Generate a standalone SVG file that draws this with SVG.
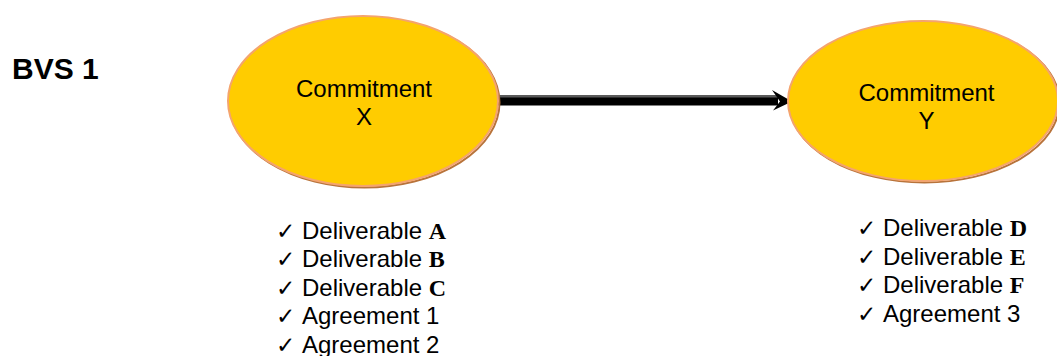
<svg xmlns="http://www.w3.org/2000/svg" width="1057" height="356" viewBox="0 0 1057 356">
  <style>
    .node-fill { fill: #FFCC00; stroke: #F4A46E; stroke-width: 2; }
    .node-shadow { fill: none; stroke: #B8733A; stroke-width: 2; }
    .node-label { font-family: "Liberation Sans", Arial, sans-serif; font-size: 24px; fill: #000; text-anchor: middle; }
    .title { font-family: "Liberation Sans", Arial, sans-serif; font-size: 30px; font-weight: bold; fill: #000; }
    .item { font-family: "Liberation Sans", Arial, sans-serif; font-size: 24px; fill: #000; }
    .tick { font-family: "DejaVu Sans", sans-serif; font-size: 23px; fill: #000; }
    .key { font-family: "Liberation Serif", "Times New Roman", serif; font-weight: bold; }
  </style>

  <rect width="1057" height="356" fill="#FFFFFF"/>

  <text class="title" x="12" y="79">BVS 1</text>

  <!-- connectors -->
  <g id="connectors">
    <rect x="495" y="95" width="285" height="3" fill="#5A5A5A"/>
    <rect x="495" y="97.5" width="283" height="8" fill="#000000"/>
    <polygon points="792,101.5 772,90 780,101.5 773,110.5" fill="#000000"/>
  </g>

  <g id="node-x">
    <ellipse class="node-shadow" cx="364.5" cy="102.5" rx="135" ry="85"/>
    <ellipse class="node-fill" cx="363" cy="101" rx="135" ry="85"/>
    <text class="node-label" x="364" y="97">Commitment</text>
    <text class="node-label" x="364" y="125">X</text>
  </g>

  <g id="node-y">
    <ellipse class="node-shadow" cx="924.5" cy="102.5" rx="135" ry="80"/>
    <ellipse class="node-fill" cx="923" cy="101" rx="135" ry="80"/>
    <text class="node-label" x="926.5" y="101">Commitment</text>
    <text class="node-label" x="926.5" y="129">Y</text>
  </g>

  <g id="list-x">
    <text class="tick" x="276" y="238.5">✓</text>
    <text class="item" x="302" y="238.5">Deliverable <tspan class="key">A</tspan></text>
    <text class="tick" x="276" y="267">✓</text>
    <text class="item" x="302" y="267">Deliverable <tspan class="key">B</tspan></text>
    <text class="tick" x="276" y="295.5">✓</text>
    <text class="item" x="302" y="295.5">Deliverable <tspan class="key">C</tspan></text>
    <text class="tick" x="276" y="324">✓</text>
    <text class="item" x="302" y="324">Agreement 1</text>
    <text class="tick" x="276" y="352.5">✓</text>
    <text class="item" x="302" y="352.5">Agreement 2</text>
  </g>

  <g id="list-y">
    <text class="tick" x="857" y="236">✓</text>
    <text class="item" x="883" y="236">Deliverable <tspan class="key">D</tspan></text>
    <text class="tick" x="857" y="264.5">✓</text>
    <text class="item" x="883" y="264.5">Deliverable <tspan class="key">E</tspan></text>
    <text class="tick" x="857" y="293">✓</text>
    <text class="item" x="883" y="293">Deliverable <tspan class="key">F</tspan></text>
    <text class="tick" x="857" y="321.5">✓</text>
    <text class="item" x="883" y="321.5">Agreement 3</text>
  </g>
</svg>
